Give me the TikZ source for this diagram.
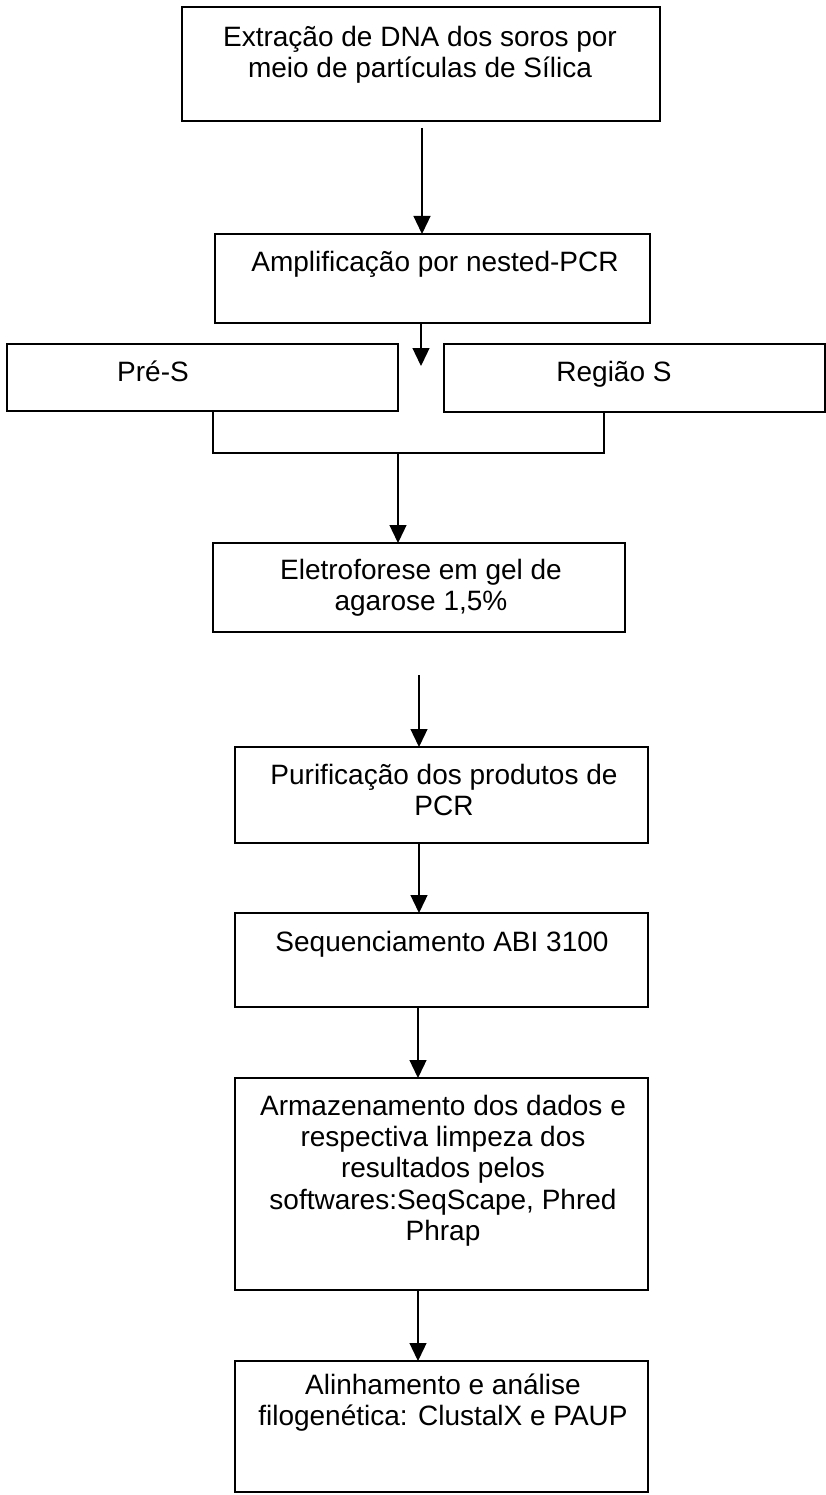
\documentclass[tikz,border=0pt]{standalone}
\usepackage{fontspec}
\setmainfont{Liberation Sans}
\usetikzlibrary{arrows.meta}
\tikzset{
  boxnode/.style={draw=black, line width=1.8pt, rectangle, inner sep=0pt, outer sep=0pt},
  txt/.style={anchor=north, inner sep=0pt, align=center, font=\fontsize{28}{31.3}\selectfont, text=black},
  conn/.style={draw=black, line width=1.3pt},
  arr/.style={conn, -{Triangle[length=18pt, width=17pt]}}
}
\begin{document}
\begin{tikzpicture}[x=1pt, y=-1pt]
\fill[white] (0,0) rectangle (826,1495);
\useasboundingbox (0,0) rectangle (826,1495);
% boxes
\node[boxnode, minimum width=478pt, minimum height=114pt] (b1) at (421,64) {};
\node[boxnode, minimum width=435pt, minimum height=89pt] (b2) at (432.5,278.5) {};
\node[boxnode, minimum width=391pt, minimum height=67pt] (pre) at (202.5,377.5) {};
\node[boxnode, minimum width=381pt, minimum height=68pt] (reg) at (634.5,378) {};
\node[boxnode, minimum width=412pt, minimum height=89pt] (ele) at (419,587.5) {};
\node[boxnode, minimum width=413pt, minimum height=96pt] (pur) at (441.5,795) {};
\node[boxnode, minimum width=413pt, minimum height=94pt] (seq) at (441.5,960) {};
\node[boxnode, minimum width=413pt, minimum height=212pt] (arm) at (441.5,1184) {};
\node[boxnode, minimum width=413pt, minimum height=131pt] (ali) at (441.5,1426.5) {};
% texts
\node[txt] (t1) at (420,24) {\strut Extração de DNA dos soros por\\meio de partículas de Sílica};
\node[txt] (t2) at (435,249) {\strut Amplificação por nested-PCR};
\node[txt] (tpre) at (153,359) {\strut Pré-S};
\node[txt] (treg) at (614,359) {\strut Região S};
\node[txt] (tele) at (421,557) {\strut Eletroforese em gel de\\agarose 1,5\%};
\node[txt] (tpur) at (444,762) {\strut Purificação dos produtos de\\PCR};
\node[txt] (tseq) at (442,929) {\strut Sequenciamento ABI 3100};
\node[txt] (tarm) at (443,1093) {\strut Armazenamento dos dados e\\respectiva limpeza dos\\resultados pelos\\softwares:SeqScape, Phred\\Phrap};
\node[txt] (tali) at (443,1372) {\strut Alinhamento e análise\\filogenética: ClustalX e PAUP};
% connectors
\coordinate (s1) at (422,128);
\draw[arr] (s1) -- (s1 |- b2.north);
\coordinate (e2) at (421,366);
\draw[arr] (e2 |- b2.south) -- (e2);
\coordinate (bl) at (213,453);
\coordinate (br) at (604,453);
\coordinate (bm) at (398,453);
\draw[conn] (bl |- pre.south) -- (bl) -- (br) -- (br |- reg.south);
\draw[arr] (bm) -- (bm |- ele.north);
\coordinate (s3) at (419,675);
\draw[arr] (s3) -- (s3 |- pur.north);
\coordinate (s4) at (419,843);
\draw[arr] (s4 |- pur.south) -- (s4 |- seq.north);
\coordinate (s5) at (418,1007);
\draw[arr] (s5 |- seq.south) -- (s5 |- arm.north);
\coordinate (s6) at (418,1290);
\draw[arr] (s6 |- arm.south) -- (s6 |- ali.north);
\end{tikzpicture}
\end{document}
